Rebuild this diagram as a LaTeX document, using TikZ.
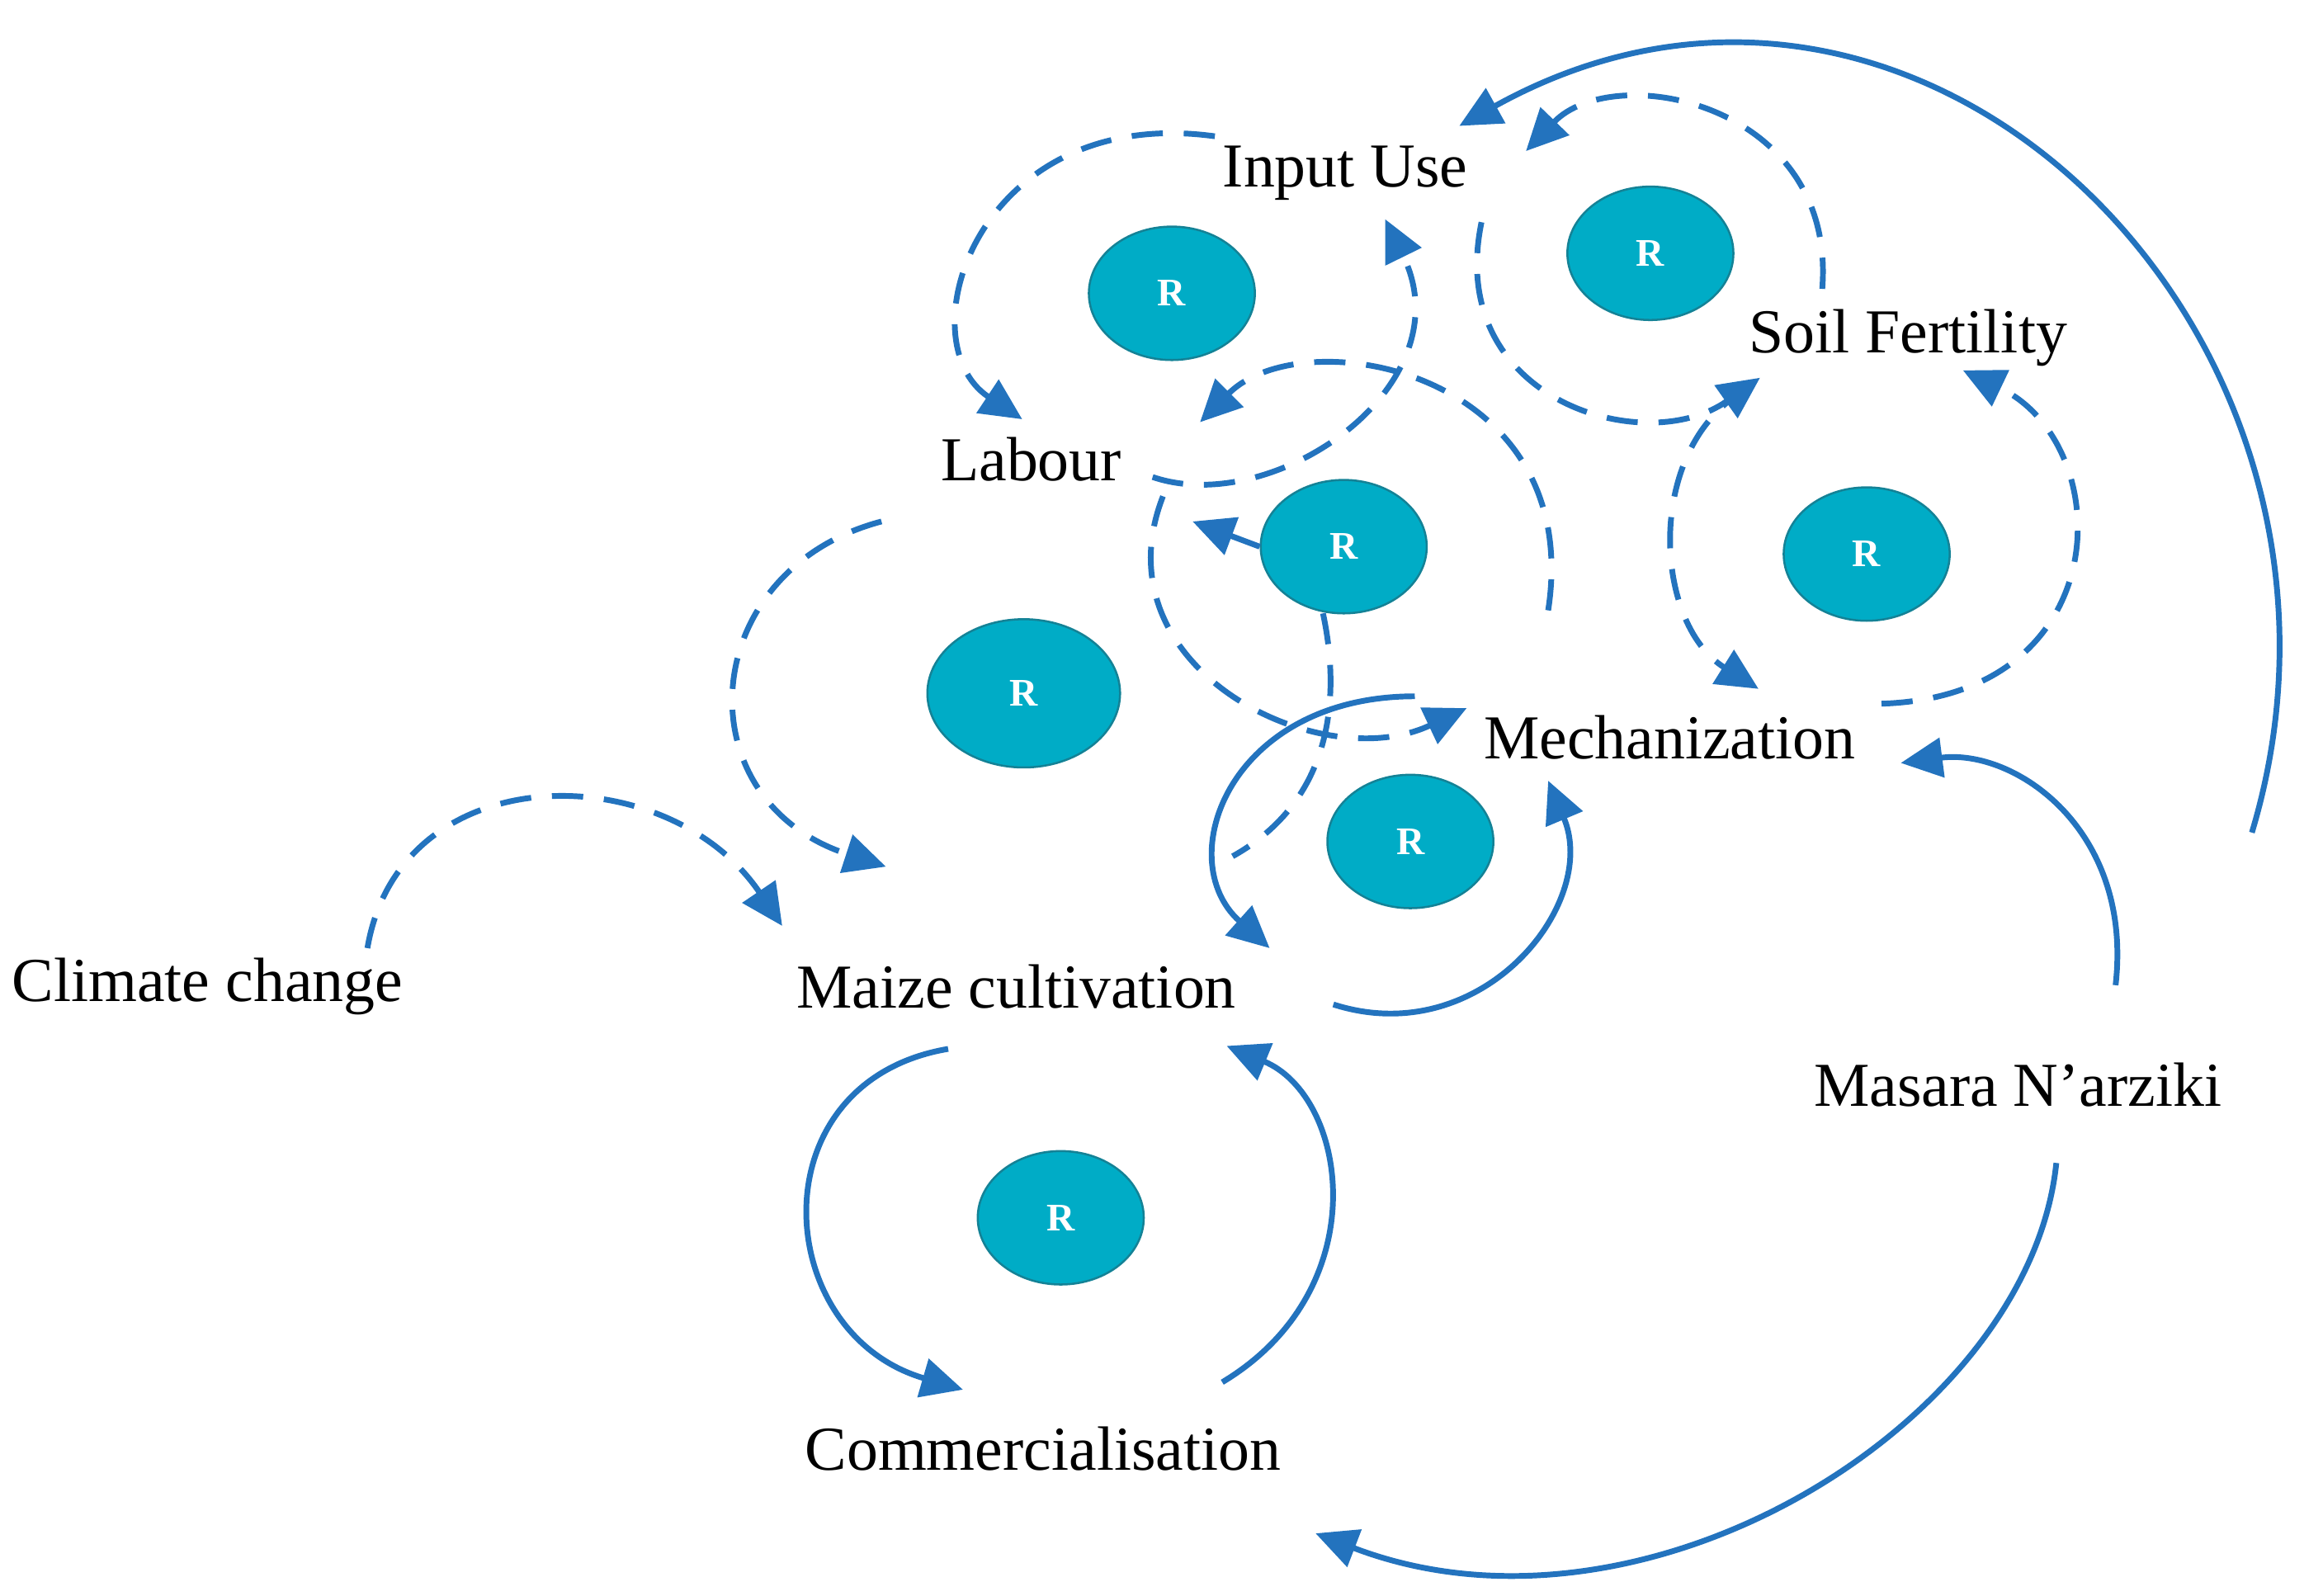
\documentclass[tikz,border=0pt]{standalone}
\usepackage{fontspec}
\setmainfont{Liberation Serif}
\usetikzlibrary{arrows.meta,shapes.geometric}
\definecolor{ln}{RGB}{35,115,190}
\definecolor{rf}{RGB}{0,172,198}
\definecolor{rd}{RGB}{20,130,150}
\begin{document}
\begin{tikzpicture}[x=0.01cm,y=-0.01cm,
  lbl/.style={font=\fontsize{12}{14}\selectfont,inner sep=1pt},
  rr/.style={ellipse,draw=rd,fill=rf,text=white,font=\bfseries\fontsize{7.5}{8}\selectfont,minimum width=1.12cm,minimum height=0.9cm,inner sep=0pt},
  con/.style={ln,line width=1.1pt,-{Triangle[length=8pt,width=7.5pt]}},
  dcon/.style={con,dash pattern=on 6pt off 4pt}]
\useasboundingbox (0,0) rectangle (1568,1077);
\node[lbl] (iu) at (908,117) {Input Use};
\node[lbl] (sf) at (1288,228) {Soil Fertility};
\node[lbl] (lab) at (696,310) {Labour};
\node[lbl] (mech) at (1127,498) {Mechanization};
\node[lbl] (maize) at (686,666) {Maize cultivation};
\node[lbl] (cc) at (140,666) {Climate change};
\node[lbl] (com) at (704,978) {Commercialisation};
\node[lbl] (mas) at (1362,732) {Masara N’arziki};
\node[rr] (r1) at (791,198) {R};
\node[rr] (r2) at (1114,171) {R};
\node[rr] (r3) at (907,369) {R};
\node[rr,minimum width=1.3cm,minimum height=1cm] (r4) at (691,468) {R};
\node[rr] (r5) at (1260,374) {R};
\node[rr] (r6) at (952,568) {R};
\node[rr] (r7) at (716,822) {R};
\coordinate (a1) at (1520,562);
\coordinate (a1e) at (985,85);
\coordinate (a2) at (1388,785);
\coordinate (a2e) at (888,1035);
\coordinate (a3) at (1428,665);
\coordinate (a3e) at (1283,515);
\coordinate (b1) at (640,708);
\coordinate (b1e) at (650,938);
\coordinate (b2) at (825,933);
\coordinate (b2e) at (828,706);
\coordinate (c1) at (900,678);
\coordinate (c1e) at (1045,527);
\coordinate (c2) at (955,470);
\coordinate (c2e) at (857,640);
\coordinate (c3e) at (805,352);
% solid
\draw[con] (a1) .. controls (1620,230) and (1300,-90) .. (a1e);
\draw[con] (a2) .. controls (1370,960) and (1110,1120) .. (a2e);
\draw[con] (a3) .. controls (1440,560) and (1360,505) .. (a3e);
\draw[con] (b1) .. controls (510,730) and (520,900) .. (b1e);
\draw[con] (b2) .. controls (930,870) and (910,740) .. (b2e);
\draw[con] (c1) .. controls (1000,710) and (1080,610) .. (c1e);
\draw[con] (c2) .. controls (830,470) and (790,580) .. (c2e);
\draw[con] (r3.west) -- (c3e);
% dashed
\coordinate (d1) at (248,640); \coordinate (d1e) at (528,625);
\draw[dcon] (d1) .. controls (270,510) and (450,510) .. (d1e);
\coordinate (d2) at (595,352); \coordinate (d2e) at (598,585);
\draw[dcon] (d2) .. controls (470,385) and (460,540) .. (d2e);
\coordinate (d3) at (820,92); \coordinate (d3e) at (690,283);
\draw[dcon] (d3) .. controls (660,70) and (610,230) .. (d3e);
\coordinate (d4) at (778,322); \coordinate (d4e) at (935,148);
\draw[dcon] (d4) .. controls (860,350) and (990,260) .. (d4e);
\coordinate (d5) at (1230,195); \coordinate (d5e) at (1030,102);
\draw[dcon] (d5) .. controls (1240,70) and (1090,40) .. (d5e);
\coordinate (d6) at (1000,150); \coordinate (d6e) at (1188,255);
\draw[dcon] (d6) .. controls (975,270) and (1110,310) .. (d6e);
\coordinate (d7) at (1180,262); \coordinate (d7e) at (1187,465);
\draw[dcon] (d7) .. controls (1110,300) and (1115,420) .. (d7e);
\coordinate (d8) at (1270,475); \coordinate (d8e) at (1325,250);
\draw[dcon] (d8) .. controls (1430,470) and (1430,300) .. (d8e);
\coordinate (d9) at (1045,412); \coordinate (d9e) at (810,285);
\draw[dcon] (d9) .. controls (1070,250) and (880,215) .. (d9e);
\coordinate (d10) at (785,335); \coordinate (d10e) at (990,478);
\draw[dcon] (d10) .. controls (740,450) and (890,525) .. (d10e);
\coordinate (d11) at (893,414); \coordinate (d11e) at (832,578);
\draw[ln,line width=1.1pt,dash pattern=on 6pt off 4pt] (d11) .. controls (905,470) and (900,540) .. (d11e);
\end{tikzpicture}
\end{document}
